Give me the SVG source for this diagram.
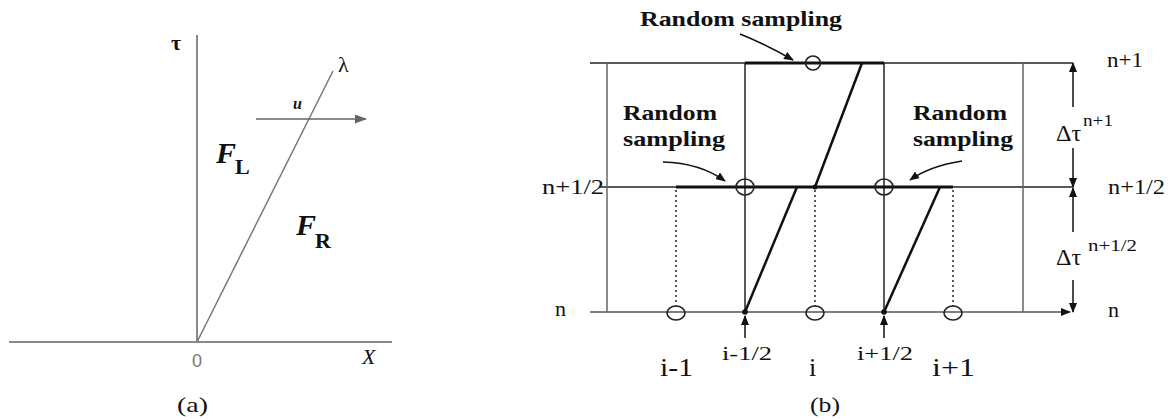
<svg xmlns="http://www.w3.org/2000/svg" width="1175" height="420" viewBox="0 0 1175 420">
<defs>
<marker id="ah" markerWidth="10" markerHeight="8" refX="9" refY="4" orient="auto" markerUnits="userSpaceOnUse"><path d="M0,0 L10,4 L0,8 z" fill="#111"/></marker>
<marker id="ahg" markerWidth="12" markerHeight="9" refX="11" refY="4.5" orient="auto" markerUnits="userSpaceOnUse"><path d="M0,0 L12,4.5 L0,9 z" fill="#666"/></marker>
<style>
.ax{stroke:#8a8a8a;stroke-width:2;fill:none}
.thin{stroke:#222;stroke-width:1.5;fill:none}
.gthin{stroke:#666;stroke-width:1.5;fill:none}
.thick{stroke:#111;stroke-width:3;fill:none}
.diag{stroke:#111;stroke-width:2.5;fill:none}
.dot{stroke:#333;stroke-width:1.6;stroke-dasharray:2,3;fill:none}
.circ{stroke:#222;stroke-width:1.6;fill:none}
.arr{stroke:#111;stroke-width:1.5;fill:none;marker-end:url(#ah)}
.t{font-family:"Liberation Serif","Times New Roman",serif;fill:#111}
.b{font-weight:bold}
</style>
</defs>
<g id="panel-a">
<line class="ax" x1="9" y1="342" x2="392" y2="342"/>
<line class="ax" x1="197" y1="35" x2="197" y2="342"/>
<line x1="197" y1="342" x2="333" y2="71" stroke="#777" stroke-width="1.5"/>
<line x1="256" y1="119" x2="366" y2="119" stroke="#666" stroke-width="1.5" marker-end="url(#ahg)"/>
<text class="t b" x="171" y="50" font-size="22">τ</text>
<text class="t" x="338" y="72" font-size="22" fill="#444">λ</text>
<text class="t b" x="293" y="109" font-size="16" font-style="italic">u</text>
<text class="t b" x="216" y="163" font-size="30" font-style="italic">F</text>
<text class="t b" x="235" y="174" font-size="22">L</text>
<text class="t b" x="296" y="235" font-size="30" font-style="italic">F</text>
<text class="t b" x="315" y="248" font-size="22">R</text>
<text x="197" y="367" font-family="Liberation Sans,sans-serif" font-size="18" fill="#777" text-anchor="middle">0</text>
<text class="t" x="362" y="364" font-size="22" font-style="italic" fill="#555">X</text>
<text class="t" x="177" y="412" font-size="22" textLength="31" lengthAdjust="spacingAndGlyphs">(a)</text>
</g>
<g id="grid">
<line class="thin" x1="590" y1="63" x2="1073" y2="63"/>
<line class="thin" x1="600" y1="187" x2="1073" y2="187"/>
<line x1="590" y1="312" x2="1070" y2="312" stroke="#555" stroke-width="1.5" marker-end="url(#ah)"/>
<line class="gthin" x1="607" y1="63" x2="607" y2="312"/>
<line class="thin" x1="745" y1="63" x2="745" y2="312"/>
<line class="thin" x1="884" y1="63" x2="884" y2="312"/>
<line class="gthin" x1="1023" y1="63" x2="1023" y2="312"/>
<line class="dot" x1="676" y1="190" x2="676" y2="306"/>
<line class="dot" x1="815" y1="190" x2="815" y2="306"/>
<line class="dot" x1="953" y1="190" x2="953" y2="306"/>
<line class="thick" x1="745" y1="63" x2="884" y2="63"/>
<line class="thick" x1="676" y1="187" x2="953" y2="187"/>
<line class="diag" x1="862" y1="63" x2="815" y2="187"/>
<line class="diag" x1="745" y1="312" x2="797" y2="187"/>
<line class="diag" x1="884" y1="312" x2="940" y2="187"/>
</g>
<g id="nodes">
<ellipse class="circ" cx="813" cy="63" rx="7.5" ry="7"/>
<ellipse class="circ" cx="745" cy="187" rx="9" ry="8"/>
<ellipse class="circ" cx="884" cy="187" rx="9" ry="8"/>
<ellipse class="circ" cx="676" cy="313" rx="9" ry="7"/>
<ellipse class="circ" cx="815" cy="313" rx="9" ry="7"/>
<ellipse class="circ" cx="953" cy="313" rx="9" ry="7"/>
<circle cx="815" cy="187" r="2.5" fill="#111"/>
<circle cx="745" cy="312" r="2.8" fill="#111"/>
<circle cx="884" cy="312" r="2.8" fill="#111"/>
</g>
<g id="connectors">
<line class="arr" x1="745" y1="338" x2="745" y2="316"/>
<line class="arr" x1="884" y1="338" x2="884" y2="316"/>
<line class="arr" x1="1073" y1="107" x2="1073" y2="63"/>
<line class="arr" x1="1073" y1="148" x2="1073" y2="187"/>
<line class="arr" x1="1073" y1="232" x2="1073" y2="188"/>
<line class="arr" x1="1073" y1="280" x2="1073" y2="312"/>
<path class="arr" d="M740,34 Q765,44 793,60"/>
<path class="arr" d="M663,162 Q700,163 725,181"/>
<path class="arr" d="M962,161 Q930,166 910,180"/>
</g>
<g id="labels-b">
<text class="t b" x="640" y="26" font-size="22" textLength="202" lengthAdjust="spacingAndGlyphs">Random sampling</text>
<text class="t b" x="623" y="120" font-size="22" textLength="94" lengthAdjust="spacingAndGlyphs">Random</text>
<text class="t b" x="623" y="146" font-size="22" textLength="102" lengthAdjust="spacingAndGlyphs">sampling</text>
<text class="t b" x="913" y="120" font-size="22" textLength="94" lengthAdjust="spacingAndGlyphs">Random</text>
<text class="t b" x="913" y="146" font-size="22" textLength="100" lengthAdjust="spacingAndGlyphs">sampling</text>
<text class="t" x="542" y="194" font-size="22" textLength="62" lengthAdjust="spacingAndGlyphs">n+1/2</text>
<text class="t" x="555" y="316" font-size="22" fill="#444">n</text>
<text class="t" x="1107" y="67" font-size="22" textLength="36" lengthAdjust="spacingAndGlyphs">n+1</text>
<text class="t" x="1108" y="194" font-size="22" textLength="57" lengthAdjust="spacingAndGlyphs">n+1/2</text>
<text class="t" x="1108" y="317" font-size="22" fill="#333">n</text>
<text class="t" x="1056" y="141" font-size="24">Δτ</text>
<text class="t" x="1083" y="126" font-size="17" textLength="30" lengthAdjust="spacingAndGlyphs">n+1</text>
<text class="t" x="1056" y="265" font-size="24">Δτ</text>
<text class="t" x="1088" y="251" font-size="17" textLength="49" lengthAdjust="spacingAndGlyphs">n+1/2</text>
<text class="t" x="722" y="360" font-size="19" textLength="50" lengthAdjust="spacingAndGlyphs">i-1/2</text>
<text class="t" x="857" y="360" font-size="19" textLength="56" lengthAdjust="spacingAndGlyphs">i+1/2</text>
<text class="t" x="660" y="376" font-size="26" textLength="33" lengthAdjust="spacingAndGlyphs">i-1</text>
<text class="t" x="809" y="376" font-size="26">i</text>
<text class="t" x="932" y="376" font-size="26" textLength="43" lengthAdjust="spacingAndGlyphs">i+1</text>
<text class="t" x="810" y="412" font-size="22" textLength="30" lengthAdjust="spacingAndGlyphs">(b)</text>
</g>
</svg>
